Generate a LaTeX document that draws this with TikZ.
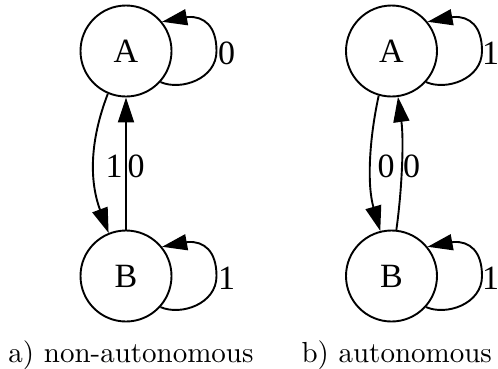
\documentclass[tikz,border=0pt]{standalone}
\usepackage{fontspec}
\newfontfamily\gvfont{Liberation Serif}
\newfontfamily\capfont{lmroman10-regular.otf}
\usetikzlibrary{arrows.meta,calc}
\newcommand\drawselfloop[1]{%
  \draw[edge] (#1.-42.5) .. controls ($(#1)+(55,40)$) and ($(#1)+(90.5,28)$) ..
    ($(#1)+(90.5,0)$) .. controls ($(#1)+(90.5,-25)$) and ($(#1)+(78,-35)$) ..
    ($(#1)+(62,-34)$) -- (#1.39.8);}
\begin{document}
\begin{tikzpicture}[x=1pt,y=-1pt,
  state/.style={circle,draw,line width=1.9pt,minimum size=91pt,inner sep=0pt,
    font=\gvfont\fontsize{34}{40}\selectfont},
  edge/.style={line width=1.9pt,-{Triangle[length=25pt,width=16pt]}},
  elabel/.style={font=\gvfont\fontsize{34}{40}\selectfont,inner sep=0pt},
  caption/.style={font=\capfont\fontsize{29}{34}\selectfont,anchor=base,inner sep=0pt}]
\useasboundingbox (0,0) rectangle (498,368);
% left: non-autonomous
\node[state] (A1) at (126,51) {A};
\node[state] (B1) at (126,276) {B};
\draw[edge] (A1.-113) .. controls ($(A1)+(-36,89)$) and ($(B1)+(-37,-96)$) .. (B1.112);
\draw[edge] (B1) -- (A1);
\drawselfloop{A1}
\drawselfloop{B1}
\node[elabel] (l1) at (114,166) {1};
\node[elabel] (l2) at (136,166) {0};
\node[elabel,anchor=west] (l3) at ($(A1)+(92,2)$) {0};
\node[elabel,anchor=west] (l4) at ($(B1)+(92,2)$) {1};
% right: autonomous
\node[state] (A2) at (391.5,51) {A};
\node[state] (B2) at (391.5,276) {B};
\draw[edge] (A2.-106) .. controls ($(A2)+(-22.5,89)$) and ($(B2)+(-24.5,-91)$) .. (B2.104);
\draw[edge] (B2.84) .. controls ($(B2)+(10.5,-86)$) and ($(A2)+(12.5,89)$) .. (A2.-82);
\drawselfloop{A2}
\drawselfloop{B2}
\node[elabel] (r1) at (386,166.5) {0};
\node[elabel] (r2) at (411.5,166.5) {0};
\node[elabel,anchor=west] (r3) at ($(A2)+(90.5,2)$) {1};
\node[elabel,anchor=west] (r4) at ($(B2)+(90.5,2)$) {1};
% captions
\node[caption] (capa) at (131,362) {a) non-autonomous};
\node[caption] (capb) at (396.7,362) {b) autonomous};
\end{tikzpicture}
\end{document}
